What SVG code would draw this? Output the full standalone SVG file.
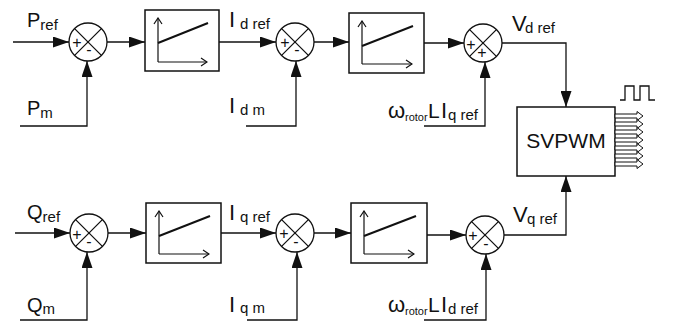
<svg xmlns="http://www.w3.org/2000/svg" width="676" height="324" viewBox="0 0 676 324">
<defs>
<marker id="ah" markerUnits="userSpaceOnUse" markerWidth="16" markerHeight="11" refX="16" refY="5.5" orient="auto">
<path d="M0,0 L16,5.5 L0,11 Z" fill="#111"/>
</marker>
<marker id="oa" markerUnits="userSpaceOnUse" markerWidth="8" markerHeight="10" refX="7" refY="5" orient="auto">
<path d="M1,1 L7,5 L1,9" fill="none" stroke="#111" stroke-width="1.2"/>
</marker>
</defs>
<style>
.ln{fill:none;stroke:#111;stroke-width:1.3}
.sum{fill:#fff;stroke:#111;stroke-width:1.3}
.blk{fill:#fff;stroke:#111;stroke-width:1.5}
.ax{fill:none;stroke:#111;stroke-width:1.2}
.sl{fill:none;stroke:#111;stroke-width:2}
text{font-family:"Liberation Sans",Arial,sans-serif;fill:#111}
.b{font-size:20px}
.bi{font-size:22px}
.s{font-size:15px}
.sg{font-size:16px;text-anchor:middle}
.ha{fill:#fff;stroke:#111;stroke-width:1}
</style>
<rect width="676" height="324" fill="#fff"/>

<g id="connectors">
<path class="ln" d="M13,42 H69" marker-end="url(#ah)"/>
<path class="ln" d="M20,126 H87 V61" marker-end="url(#ah)"/>
<path class="ln" d="M107,42 H145" marker-end="url(#ah)"/>
<path class="ln" d="M219,42 H276" marker-end="url(#ah)"/>
<path class="ln" d="M246,126 H296 V61" marker-end="url(#ah)"/>
<path class="ln" d="M314,42 H349" marker-end="url(#ah)"/>
<path class="ln" d="M424,43 H464" marker-end="url(#ah)"/>
<path class="ln" d="M424,126 H485 V62" marker-end="url(#ah)"/>
<path class="ln" d="M502,43 H566 V107" marker-end="url(#ah)"/>

<path class="ln" d="M15,233 H70" marker-end="url(#ah)"/>
<path class="ln" d="M20,320 H87 V252" marker-end="url(#ah)"/>
<path class="ln" d="M108,233 H146" marker-end="url(#ah)"/>
<path class="ln" d="M221,233 H276" marker-end="url(#ah)"/>
<path class="ln" d="M247,320 H297 V252" marker-end="url(#ah)"/>
<path class="ln" d="M314,233 H351" marker-end="url(#ah)"/>
<path class="ln" d="M427,235 H466" marker-end="url(#ah)"/>
<path class="ln" d="M424,320 H486 V254" marker-end="url(#ah)"/>
<path class="ln" d="M504,235 H566 V176" marker-end="url(#ah)"/>
</g>

<g id="sum1">
<circle class="sum" cx="88" cy="42" r="19"/>
<path class="ln" d="M74.6,28.6 L101.4,55.4 M101.4,28.6 L74.6,55.4"/>
<text class="sg" x="77" y="48">+</text><text class="sg" x="89" y="55">-</text>
</g>
<g id="pi1">
<rect class="blk" x="145" y="10" width="74" height="61"/>
<path class="ax" d="M158,62 V18" marker-end="url(#oa)"/>
<path class="ax" d="M158,62 H207" marker-end="url(#oa)"/>
<path class="sl" d="M158,43 L208,23"/>
</g>
<g id="sum2">
<circle class="sum" cx="295" cy="42" r="19"/>
<path class="ln" d="M281.6,28.6 L308.4,55.4 M308.4,28.6 L281.6,55.4"/>
<text class="sg" x="285" y="48">+</text><text class="sg" x="297" y="55">-</text>
</g>
<g id="pi2">
<rect class="blk" x="349" y="13" width="75" height="60"/>
<path class="ax" d="M362,64 V21" marker-end="url(#oa)"/>
<path class="ax" d="M362,64 H412" marker-end="url(#oa)"/>
<path class="sl" d="M362,46 L413,26"/>
</g>
<g id="sum3">
<circle class="sum" cx="483" cy="43" r="19"/>
<path class="ln" d="M469.6,29.6 L496.4,56.4 M496.4,29.6 L469.6,56.4"/>
<text class="sg" x="471" y="50">+</text><text class="sg" x="482" y="58">+</text>
</g>

<g id="sum4">
<circle class="sum" cx="89" cy="233" r="19"/>
<path class="ln" d="M75.6,219.6 L102.4,246.4 M102.4,219.6 L75.6,246.4"/>
<text class="sg" x="77" y="240">+</text><text class="sg" x="89" y="247">-</text>
</g>
<g id="pi3">
<rect class="blk" x="146" y="203" width="75" height="60"/>
<path class="ax" d="M159,254 V211" marker-end="url(#oa)"/>
<path class="ax" d="M159,254 H209" marker-end="url(#oa)"/>
<path class="sl" d="M159,236 L210,216"/>
</g>
<g id="sum5">
<circle class="sum" cx="295" cy="233" r="19"/>
<path class="ln" d="M281.6,219.6 L308.4,246.4 M308.4,219.6 L281.6,246.4"/>
<text class="sg" x="284" y="239">+</text><text class="sg" x="296" y="247">-</text>
</g>
<g id="pi4">
<rect class="blk" x="351" y="203" width="76" height="60"/>
<path class="ax" d="M364,254 V211" marker-end="url(#oa)"/>
<path class="ax" d="M364,254 H414" marker-end="url(#oa)"/>
<path class="sl" d="M364,236 L416,216"/>
</g>
<g id="sum6">
<circle class="sum" cx="485" cy="235" r="19"/>
<path class="ln" d="M471.6,221.6 L498.4,248.4 M498.4,221.6 L471.6,248.4"/>
<text class="sg" x="473" y="241">+</text><text class="sg" x="486" y="249">-</text>
</g>

<g id="svpwm">
<rect class="blk" x="517" y="107" width="98" height="69"/>
<text x="566" y="148" font-size="21" text-anchor="middle">SVPWM</text>
<path class="ha" d="M615,114 H637 V111.5 L643,116 L637,120.5 V118 H615 Z"/>
<path class="ha" d="M615,122 H637 V119.5 L643,124 L637,128.5 V126 H615 Z"/>
<path class="ha" d="M615,130 H637 V127.5 L643,132 L637,136.5 V134 H615 Z"/>
<path class="ha" d="M615,138 H637 V135.5 L643,140 L637,144.5 V142 H615 Z"/>
<path class="ha" d="M615,146 H637 V143.5 L643,148 L637,152.5 V150 H615 Z"/>
<path class="ha" d="M615,154 H637 V151.5 L643,156 L637,160.5 V158 H615 Z"/>
<path class="ha" d="M615,162 H637 V159.5 L643,164 L637,168.5 V166 H615 Z"/>
<path class="ln" d="M620,100 H625 V86 H634 V100 H640 V86 H649 V100 H655"/>
</g>

<g id="labels">
<text x="27" y="27"><tspan class="b">P</tspan><tspan class="s" dy="3">ref</tspan></text>
<text x="27" y="115"><tspan class="b">P</tspan><tspan class="s" dy="3">m</tspan></text>
<text x="229" y="27"><tspan class="bi">I</tspan><tspan class="s" x="240" dy="2">d ref</tspan></text>
<text x="229" y="113"><tspan class="bi">I</tspan><tspan class="s" x="240" dy="2">d m</tspan></text>
<text x="388" y="118"><tspan font-size="22">ω</tspan><tspan font-size="11" x="405" dy="3">rotor</tspan><tspan font-size="21" x="428" dy="-3">L</tspan><tspan font-size="22" x="441">I</tspan><tspan class="s" x="448" dy="2">q ref</tspan></text>
<text x="512" y="31"><tspan font-size="22">V</tspan><tspan class="s" x="525" dy="2">d ref</tspan></text>

<text x="27" y="219"><tspan class="b">Q</tspan><tspan class="s" dy="3">ref</tspan></text>
<text x="27" y="312"><tspan class="b">Q</tspan><tspan class="s" dy="2">m</tspan></text>
<text x="229" y="220"><tspan class="bi">I</tspan><tspan class="s" x="240" dy="2">q ref</tspan></text>
<text x="229" y="312"><tspan class="bi">I</tspan><tspan class="s" x="240" dy="1">q m</tspan></text>
<text x="388" y="312"><tspan font-size="22">ω</tspan><tspan font-size="11" x="405" dy="3">rotor</tspan><tspan font-size="21" x="428" dy="-3">L</tspan><tspan font-size="22" x="441">I</tspan><tspan class="s" x="448" dy="2">d ref</tspan></text>
<text x="513" y="222"><tspan font-size="22">V</tspan><tspan class="s" x="527" dy="2">q ref</tspan></text>
</g>
</svg>
